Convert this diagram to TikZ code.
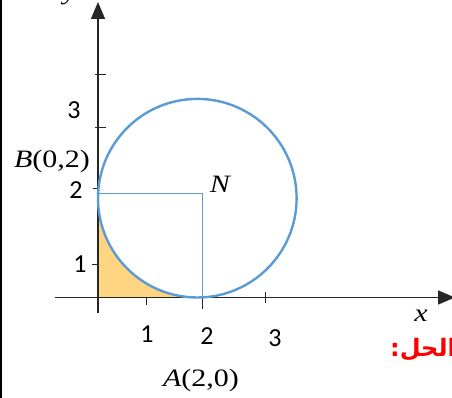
\documentclass[tikz,border=0pt]{standalone}
\usepackage{fontspec}
\setmainfont{Carlito}
\newfontfamily\lserif[FakeStretch=1.2]{Liberation Serif}
\newfontfamily\arabicfont[Script=Arabic]{DejaVu Sans}
\TeXXeTstate=1
\usetikzlibrary{arrows.meta}
\definecolor{circblue}{HTML}{5B9BD5}
\definecolor{fillor}{HTML}{FFD581}
\definecolor{edgeor}{HTML}{FFC000}
\definecolor{solred}{HTML}{FF0000}
\tikzset{
  axisline/.style={line width=1.3pt, draw=black!85, -{Triangle[length=17pt,width=14pt]}},
  tickline/.style={line width=1pt, draw=black!85},
  lbl/.style={inner sep=0pt, font=\fontsize{26}{30}\selectfont},
  letterlbl/.style={inner sep=0pt, font=\fontsize{25}{29}\selectfont\lserif},
  circleline/.style={draw=circblue, line width=2.4pt},
  thinblue/.style={draw=circblue, line width=1pt}
}
\begin{document}
\begin{tikzpicture}[x=1pt,y=1pt]
\useasboundingbox (0,0) rectangle (452,398);
\clip (0,0) rectangle (452,398);
\fill[white] (0,0) rectangle (452,398);
% left border
\draw[line width=2pt, black] (1,0) -- (1,398);
% key points
\coordinate (O) at (98,100.5);
\coordinate (N) at (197.3,199.8);
\coordinate (Bp) at (98,199.8);
\coordinate (Ap) at (197.3,100.5);
% shaded region
\fill[fillor] (O) -- (Bp) arc[start angle=180, end angle=270, radius=99.3] -- cycle;
\draw[edgeor, line width=1.2pt] (O) -- (Ap);
% axes
\coordinate (xs) at (55,100.5);
\coordinate (xe) at (455,100.5);
\coordinate (ys) at (98,85);
\coordinate (ye) at (98,396);
\draw[axisline] (xs) -- (xe);
\draw[axisline] (ys) -- (ye);
% ticks
\coordinate (ty1a) at (95,323); \coordinate (ty1b) at (106,323);
\coordinate (ty2a) at (95,270); \coordinate (ty2b) at (106,270);
\coordinate (ty3a) at (93,209); \coordinate (ty3b) at (98,209);
\coordinate (ty4a) at (92,133); \coordinate (ty4b) at (98,133);
\draw[tickline] (ty1a) -- (ty1b);
\draw[tickline] (ty2a) -- (ty2b);
\draw[tickline] (ty3a) -- (ty3b);
\draw[tickline] (ty4a) -- (ty4b);
\coordinate (tx1a) at (146,100.5); \coordinate (tx1b) at (146,93);
\coordinate (tx2a) at (202.3,100.5); \coordinate (tx2b) at (202.3,89);
\coordinate (tx3a) at (265,106); \coordinate (tx3b) at (265,95);
\draw[tickline] (tx1a) -- (tx1b);
\draw[tickline] (tx2a) -- (tx2b);
\draw[tickline] (tx3a) -- (tx3b);
% radius lines
\coordinate (r1) at (99,204.7);
\coordinate (r2) at (202.3,204.7);
\coordinate (r3) at (202.3,101);
\draw[thinblue] (r1) -- (r2) -- (r3);
% circle
\draw[circleline] (N) circle[radius=99.3];
% labels
\node[lbl] (ly3) at (74,288) {3};
\node[letterlbl] (lB) at (52,237) {\itshape B\upshape(0,2)};
\node[lbl] (ly2) at (76,208) {2};
\node[letterlbl] (lN) at (220,214) {\itshape N};
\node[lbl] (ly1) at (80,134) {1};
\node[lbl] (lx1) at (147,64) {1};
\node[lbl] (lx2) at (207,62) {2};
\node[lbl] (lx3) at (275,60) {3};
\node[letterlbl] (lA) at (201,18) {\itshape A\upshape(2,0)};
\node[letterlbl] (lx) at (421,82) {\itshape x};
\node[letterlbl, anchor=base] (ly) at (70,398) {\itshape y};
\node[inner sep=0pt, anchor=west, text=solred, font=\fontsize{24}{28}\selectfont\arabicfont\bfseries] (sol) at (390,48) {\beginR الحل:\endR};
\end{tikzpicture}
\end{document}
